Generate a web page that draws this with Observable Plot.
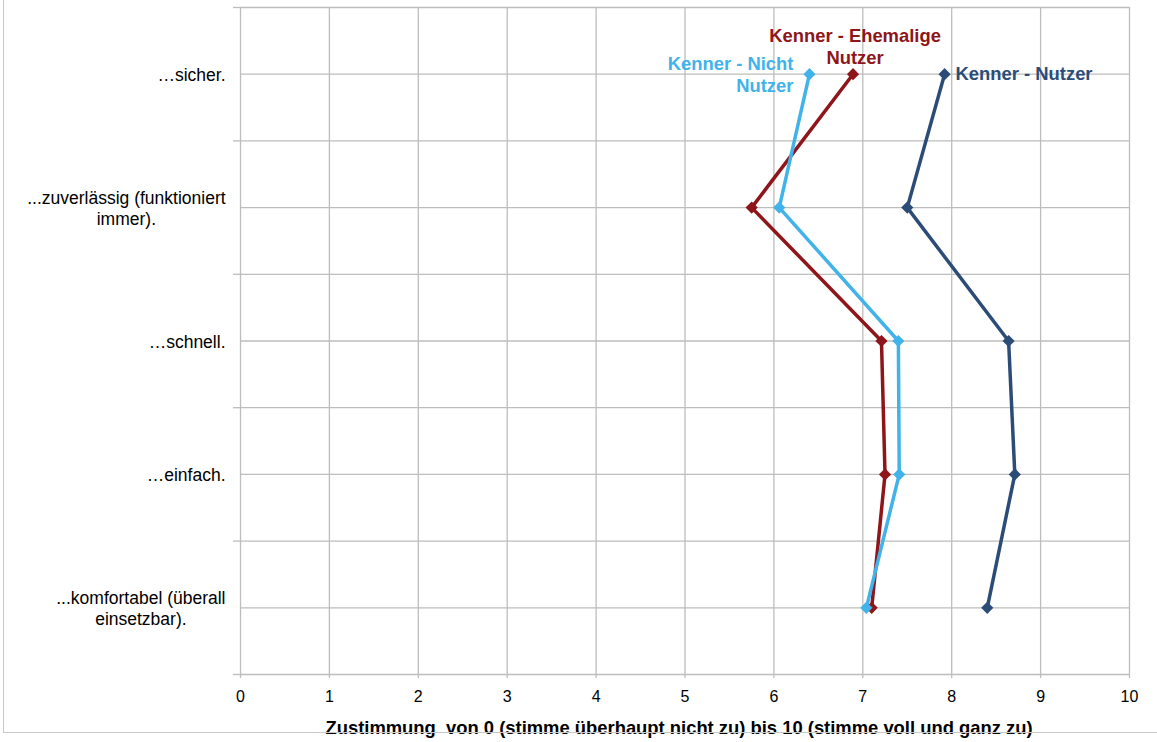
<!DOCTYPE html>
<html>
<head>
<meta charset="utf-8">
<script src="https://cdn.jsdelivr.net/npm/d3@7"></script>
<script src="https://cdn.jsdelivr.net/npm/@observablehq/plot@0.6"></script>
<style>
  html, body { margin: 0; padding: 0; background: #fff; }
  body { width: 1157px; height: 742px; position: relative; overflow: hidden; font-family: "Liberation Sans", Arial, sans-serif; }
  #frame { position: absolute; left: 3px; top: -2px; width: 1200px; height: 734px; border-left: 1px solid #c8c8c8; border-bottom: 1px solid #c8c8c8; pointer-events: none; z-index: 2; }
  #chart { position: absolute; left: 0; top: 0; }
</style>
</head>
<body>
<div id="frame"></div>
<div id="chart"></div>
<script>
// ---- data ----
const categories = [
  "…sicher.",
  "...zuverlässig (funktioniert\nimmer).",
  "…schnell.",
  "…einfach.",
  "...komfortabel (überall\neinsetzbar)."
];
const seriesNames = ["Kenner - Nutzer", "Kenner - Ehemalige Nutzer", "Kenner - Nicht Nutzer"];
const seriesLabels = ["Kenner - Nutzer", "Kenner - Ehemalige\nNutzer", "Kenner - Nicht\nNutzer"];
const nutzer        = [7.92, 7.50, 8.64, 8.71, 8.40];
const ehemalige     = [6.89, 5.75, 7.21, 7.25, 7.10];
const nichtNutzer   = [6.40, 6.06, 7.40, 7.41, 7.04];
const xTicks = [0, 1, 2, 3, 4, 5, 6, 7, 8, 9, 10];
const xTitle = "Zustimmung  von 0 (stimme überhaupt nicht zu) bis 10 (stimme voll und ganz zu)";

const colors = ["#2C4C78", "#8E1519", "#41B3EA"];
const seriesValues = [nutzer, ehemalige, nichtNutzer];

const rows = [];
seriesNames.forEach((s, k) => seriesValues[k].forEach((v, i) => rows.push({series: s, i, value: v})));
const labelRows = seriesNames.map((s, k) => ({series: s, label: seriesLabels[k], i: 0, value: seriesValues[k][0]}));

const yIdx = categories.map((_, i) => i);
const yBounds = d3.range(-0.5, categories.length, 1);
const yAll = d3.range(-0.5, categories.length, 0.5);

const grid = "#bdbdbd";
const font = "Liberation Sans, Arial, sans-serif";

const chart = Plot.plot({
  width: 1157,
  height: 742,
  marginTop: 7,
  marginBottom: 68,
  marginLeft: 240,
  marginRight: 28,
  style: {fontFamily: font, background: "white", overflow: "visible"},
  x: {domain: [0, 10], label: null},
  y: {domain: [categories.length - 0.5, -0.5], label: null},
  color: {domain: seriesNames, range: colors},
  marks: [
    Plot.ruleY(yAll, {stroke: grid, strokeWidth: 1.3}),
    Plot.ruleX(xTicks, {stroke: grid, strokeWidth: 1.3}),
    Plot.axisY(yBounds, {tickSize: 7, tickFormat: () => "", stroke: grid, strokeWidth: 1.3, label: null}),
    Plot.axisY(yIdx, {tickSize: 0, tickPadding: 15, tickFormat: i => categories[i], fontSize: 17.5, fill: "#000", textAnchor: "end", lineHeight: 1.2, label: null}),
    Plot.axisX(xTicks, {tickSize: 4, tickPadding: 12, stroke: grid, strokeWidth: 1.3, fontSize: 16, fill: "#000", label: null}),
    Plot.text([xTitle], {frameAnchor: "bottom", lineAnchor: "middle", dy: 54, dx: -6, fontSize: 18.4, fontWeight: "bold", fill: "#000"}),
    Plot.line(rows, {x: "value", y: "i", z: "series", stroke: "series", strokeWidth: 3.5}),
    Plot.dot(rows, {x: "value", y: "i", fill: "series", symbol: "diamond2", r: 5.5, stroke: "none"}),
    Plot.text(labelRows.filter(d => d.series === seriesNames[0]), {x: "value", y: "i", text: "label", fill: "series", textAnchor: "start", dx: 11, fontSize: 18.4, fontWeight: "bold"}),
    Plot.text(labelRows.filter(d => d.series === seriesNames[1]), {x: "value", y: "i", text: "label", fill: "series", textAnchor: "middle", dx: 2, dy: -28, fontSize: 18.4, fontWeight: "bold", lineHeight: 1.15}),
    Plot.text(labelRows.filter(d => d.series === seriesNames[2]), {x: "value", y: "i", text: "label", fill: "series", textAnchor: "end", dx: -16, dy: 0, fontSize: 18.4, fontWeight: "bold", lineHeight: 1.15})
  ]
});
document.getElementById("chart").appendChild(chart);

// center multi-line category labels within their right-aligned block
d3.select(chart).selectAll("[aria-label='y-axis tick label'] text").each(function() {
  const tspans = this.querySelectorAll("tspan");
  if (tspans.length < 2) return;
  const b = this.getBBox();
  this.setAttribute("text-anchor", "middle");
  tspans.forEach(t => t.setAttribute("x", b.x + b.width / 2));
});
</script>
</body>
</html>
